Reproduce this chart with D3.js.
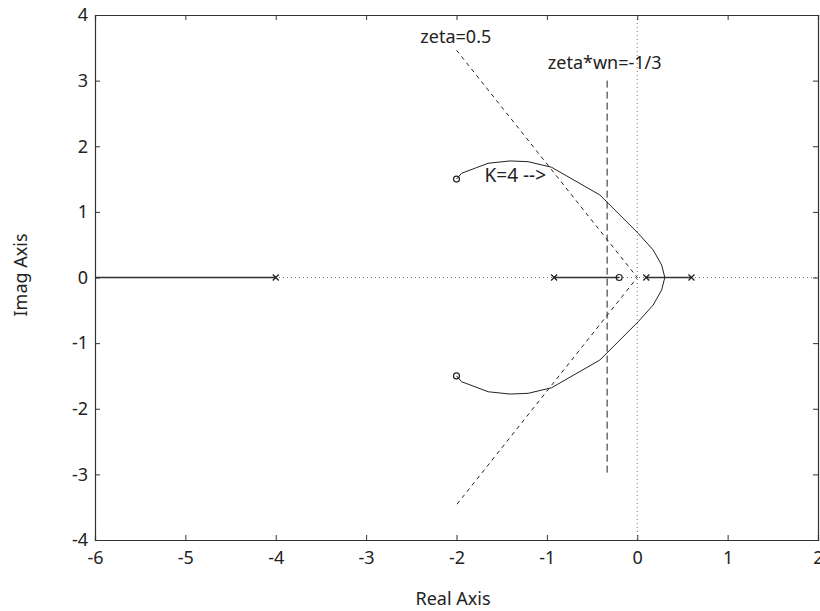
<!DOCTYPE html>
<html><head><meta charset="utf-8">
<script src="https://cdn.jsdelivr.net/npm/d3@7"></script>
<style>body{margin:0;background:#fff}svg text{font-family:"Noto Sans","Open Sans",sans-serif;fill:#222}</style>
</head><body><svg id="c" width="820" height="611"></svg>
<script>
const xTicks = [-6,-5,-4,-3,-2,-1,0,1,2];
const yTicks = [-4,-3,-2,-1,0,1,2,3,4];
const poleRe = [-4, -0.92, 0.1, 0.6];
const poleIm = [0, 0, 0, 0];
const zeroRe = [-0.2, -2, -2];
const zeroIm = [0, 1.5, -1.5];
// upper complex branch (lower is its mirror)
const branchRe = [0.305, 0.27, 0.176, 0.01, -0.414, -0.948, -1.207, -1.409, -1.649, -1.944, -2];
const branchIm = [0, 0.19, 0.42, 0.674, 1.258, 1.68, 1.765, 1.776, 1.741, 1.588, 1.5];
// real-axis segments
const segStart = [-6, -0.92, 0.1];
const segEnd = [-4, -0.2, 0.6];
const zetaLineRe = [-2, 0, -2];
const zetaLineIm = [3.464, 0, -3.464];
const sigmaRe = [-1/3, -1/3];
const sigmaIm = [3, -3];
const labels = ["zeta=0.5", "zeta*wn=-1/3", "K=4 -->"];
const labelRe = [-2.4, -0.99, -1.69];
const labelIm = [3.57, 3.17, 1.46];

const svg = d3.select("#c");
const L=95, R=818, T=15, B=540;
const x = d3.scaleLinear().domain([-6,2]).range([L,R]);
const y = d3.scaleLinear().domain([-4,4]).range([B,T]);
const g = svg.append("g");
const fmt = d => String(d);

// dotted zero axes
g.append("line").attr("x1",x(-6)).attr("x2",x(2)).attr("y1",y(0)).attr("y2",y(0))
 .attr("stroke","#777").attr("stroke-width",1).attr("stroke-dasharray","1,3");
g.append("line").attr("x1",x(0)).attr("x2",x(0)).attr("y1",y(-4)).attr("y2",y(4))
 .attr("stroke","#777").attr("stroke-width",1).attr("stroke-dasharray","1,3");

// axes frame + ticks
const ax = svg.append("g");
const xb = ax.append("g").attr("transform",`translate(0,${B})`).call(d3.axisBottom(x).tickValues(xTicks).tickSize(-5).tickPadding(11).tickFormat(fmt));
const xt = ax.append("g").attr("transform",`translate(0,${T})`).call(d3.axisTop(x).tickValues(xTicks).tickSize(-5).tickFormat(""));
const yl = ax.append("g").attr("transform",`translate(${L},0)`).call(d3.axisLeft(y).tickValues(yTicks).tickSize(-5).tickPadding(7).tickFormat(fmt));
const yr = ax.append("g").attr("transform",`translate(${R},0)`).call(d3.axisRight(y).tickValues(yTicks).tickSize(-5).tickFormat(""));
ax.selectAll(".domain").attr("stroke","#333").attr("stroke-width",1.2);
ax.selectAll(".tick line").attr("stroke","#333");
ax.selectAll("text").attr("font-family","'Noto Sans',sans-serif").attr("font-size",18).attr("fill","#222");

// real-axis branches
segStart.forEach((s,i)=>{
  g.append("line").attr("x1",x(s)).attr("x2",x(segEnd[i])).attr("y1",y(0)).attr("y2",y(0))
   .attr("stroke","#333").attr("stroke-width",1.3);
});

// complex branches
const pts = branchRe.map((r,i)=>[r,branchIm[i]]);
const line = d3.line().x(d=>x(d[0])).y(d=>y(d[1]));
g.append("path").attr("d",line(pts)).attr("fill","none").attr("stroke","#222").attr("stroke-width",1);
g.append("path").attr("d",line(pts.map(p=>[p[0],-p[1]]))).attr("fill","none").attr("stroke","#222").attr("stroke-width",1);

// zeta line
g.append("path").attr("d",line(zetaLineRe.map((r,i)=>[r,zetaLineIm[i]])))
 .attr("fill","none").attr("stroke","#222").attr("stroke-width",1).attr("stroke-dasharray","4,4");
// sigma line
g.append("path").attr("d",line(sigmaRe.map((r,i)=>[r,sigmaIm[i]])))
 .attr("fill","none").attr("stroke","#222").attr("stroke-width",1).attr("stroke-dasharray","7,4");

// poles
poleRe.forEach((r,i)=>{
  const cx=x(r), cy=y(poleIm[i]), s=3;
  g.append("path").attr("d",`M${cx-s},${cy-s}L${cx+s},${cy+s}M${cx-s},${cy+s}L${cx+s},${cy-s}`)
   .attr("stroke","#222").attr("stroke-width",1.3);
});
// zeros
zeroRe.forEach((r,i)=>{
  g.append("circle").attr("cx",x(r)).attr("cy",y(zeroIm[i])).attr("r",3)
   .attr("fill","none").attr("stroke","#222").attr("stroke-width",1.2);
});

// annotations
labels.forEach((t,i)=>{
  svg.append("text").attr("x",x(labelRe[i])).attr("y",y(labelIm[i])).text(t)
   .attr("font-size",i===2?19:18)
   .attr("font-family",i===2?"'Liberation Sans',Arial,sans-serif":"'Noto Sans',sans-serif");
});

// axis titles
svg.append("text").attr("x",453).attr("y",605).attr("text-anchor","middle").attr("font-size",18).text("Real Axis");
svg.append("text").attr("transform","translate(27,275) rotate(-90)").attr("text-anchor","middle").attr("font-size",18).text("Imag Axis");
</script></body></html>
